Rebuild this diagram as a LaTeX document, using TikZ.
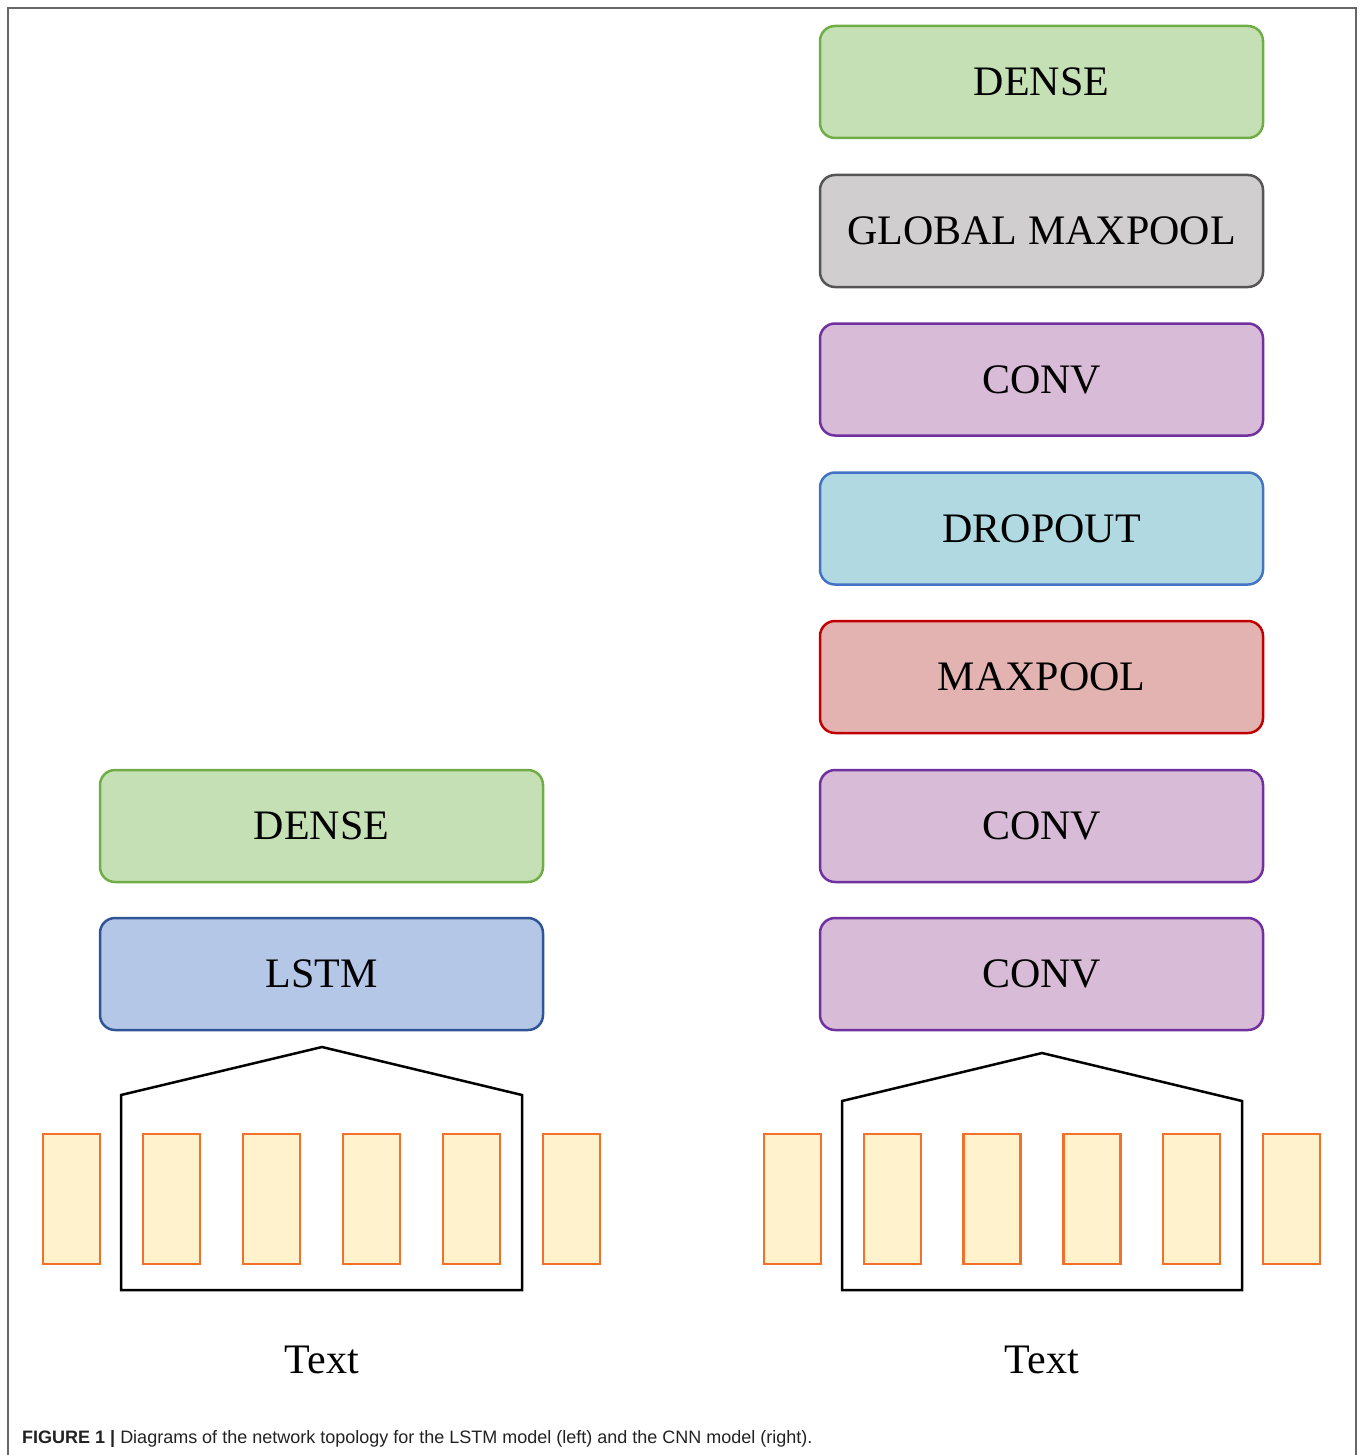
\documentclass[tikz,border=0pt]{standalone}
\usepackage{fontspec}
\setmainfont{Liberation Serif}
\newfontfamily\capfont{Liberation Sans}

\definecolor{denseFill}{HTML}{C5E0B4}
\definecolor{denseLine}{HTML}{70AD47}
\definecolor{gmpFill}{HTML}{D0CECE}
\definecolor{gmpLine}{HTML}{555555}
\definecolor{convFill}{HTML}{D8BBD6}
\definecolor{convLine}{HTML}{7030A0}
\definecolor{dropFill}{HTML}{B1D9E1}
\definecolor{dropLine}{HTML}{4472C4}
\definecolor{mpFill}{HTML}{E2B3B0}
\definecolor{mpLine}{HTML}{C00000}
\definecolor{lstmFill}{HTML}{B4C7E7}
\definecolor{lstmLine}{HTML}{2F5597}
\definecolor{tokFill}{HTML}{FFF2CC}
\definecolor{tokLine}{HTML}{F2702A}
\definecolor{frameLine}{HTML}{666666}
\definecolor{capText}{HTML}{222222}

\tikzset{
  layer/.style n args={2}{draw=#2, fill=#1, line width=2.5pt, rounded corners=15pt,
    minimum width=443pt, minimum height=112pt, inner sep=0pt,
    font=\fontsize{42}{50}\selectfont},
  token/.style={draw=tokLine, fill=tokFill, line width=2.5pt,
    minimum width=57pt, minimum height=130pt, inner sep=0pt},
  window/.style={draw=black, line width=2.5pt, line join=miter},
  inputlabel/.style={font=\fontsize{42}{50}\selectfont, inner sep=0pt}
}

\begin{document}
\begin{tikzpicture}[x=1pt, y=-1pt]
  \useasboundingbox (0,0) rectangle (1363,1455);

  % outer frame, open at the bottom
  \draw[frameLine, line width=2pt] (8,1455) -- (8,8) -- (1356,8) -- (1356,1455);

  % LSTM model (left column)
  \node[layer={denseFill}{denseLine}] (ldense) at (321.5,826) {DENSE};
  \node[layer={lstmFill}{lstmLine}]   (llstm)  at (321.5,974) {LSTM};

  % CNN model (right column)
  \node[layer={denseFill}{denseLine}] (rdense) at (1041.5,82)    {DENSE};
  \node[layer={gmpFill}{gmpLine}]     (rgmp)   at (1041.5,231)   {GLOBAL MAXPOOL};
  \node[layer={convFill}{convLine}]   (rconvc) at (1041.5,379.5) {CONV};
  \node[layer={dropFill}{dropLine}]   (rdrop)  at (1041.5,528.5) {DROPOUT};
  \node[layer={mpFill}{mpLine}]       (rmp)    at (1041.5,677)   {MAXPOOL};
  \node[layer={convFill}{convLine}]   (rconvb) at (1041.5,826)   {CONV};
  \node[layer={convFill}{convLine}]   (rconva) at (1041.5,974)   {CONV};

  % input token sequences
  \foreach \i in {0,...,5} {
    \node[token] (ltok\i) at ({71.5+100*\i},1199) {};
    \node[token] (rtok\i) at ({792.5+99.8*\i},1199) {};
  }

  % sliding windows over the tokens
  \draw[window] (121,1290) -- (121,1095) -- (322,1047) -- (522,1095) -- (522,1290) -- cycle;
  \draw[window] (842,1290) -- (842,1101) -- (1042,1053) -- (1242,1101) -- (1242,1290) -- cycle;

  % input labels
  \node[inputlabel, anchor=base] (ltext) at (322,1373) {Text};
  \node[inputlabel, anchor=base] (rtext) at (1042,1373) {Text};

  % caption
  \node[anchor=base west, inner sep=0pt, text=capText,
        font=\capfont\fontsize{18}{22}\selectfont] (caption) at (22,1443)
    {\textbf{FIGURE 1 |} Diagrams of the network topology for the LSTM model (left) and the CNN model (right).};
\end{tikzpicture}
\end{document}
